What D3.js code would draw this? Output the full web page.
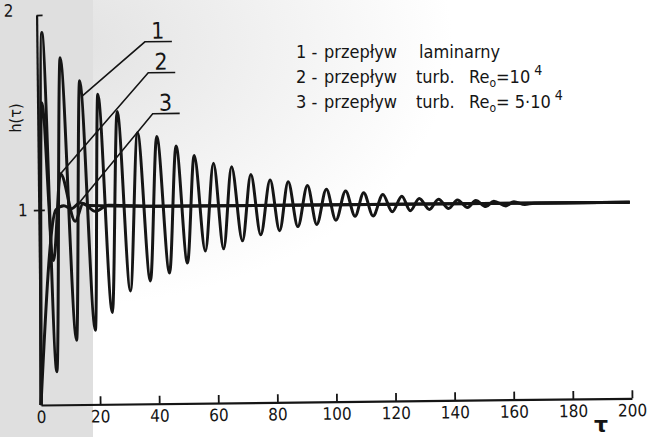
<!DOCTYPE html>
<html>
<head>
<meta charset="utf-8">
<script src="https://cdn.jsdelivr.net/npm/d3@7"></script>
<style>
body { margin: 0; background: #fff; }
svg { display: block; }
</style>
</head>
<body>
<script>
/* global d3 */

// Data (peaks and troughs of each response)
// 1 - laminar flow
const tauLam = [0, 1.7, 5.5, 7.8, 12.3, 14.3, 18.7, 20.4, 24.5, 26.9, 30.7, 33.7, 37.5, 40.2, 44.0, 46.7,
  50.1, 52.8, 56.2, 59.3, 62.4, 65.4, 68.8, 71.9, 75.0, 78.4, 81.4, 84.5, 87.6, 91.0, 94.0, 97.4,
  100.5, 103.9, 107.0, 110.0, 113.1, 116.5, 119.6, 122.9, 125.7, 128.8, 132.2, 135.3, 138.7, 141.7,
  145.1, 147.9, 151.3, 154.0, 158.1, 160.8, 164.5, 167.6, 200];
const hLam = [0, 1.91, 0.17, 1.78, 0.33, 1.66, 0.38, 1.59, 0.47, 1.50, 0.58, 1.39, 0.63, 1.37, 0.67, 1.32,
  0.72, 1.27, 0.78, 1.23, 0.79, 1.21, 0.83, 1.17, 0.86, 1.14, 0.88, 1.13, 0.90, 1.11, 0.91, 1.09,
  0.93, 1.08, 0.95, 1.07, 0.95, 1.06, 0.97, 1.05, 0.975, 1.037, 0.98, 1.032, 0.984, 1.027,
  0.988, 1.023, 0.992, 1.019, 0.994, 1.015, 1.0, 1.006, 1.005];

// 2 - turbulent, Re = 10^4
const tauTurb1 = [0, 1.4, 4.8, 7.5, 12.3, 15.0, 19.1, 23.5, 40, 200];
const hTurb1 = [0, 1.55, 0.74, 1.185, 0.94, 1.03, 0.99, 1.02, 1.012, 1.005];

// 3 - turbulent, Re = 5*10^4
const tauTurb2 = [0, 5.8, 8.5, 11.0, 14.0, 17.0, 40, 200];
const hTurb2 = [0, 1.0, 1.02, 1.005, 1.035, 1.02, 1.012, 1.005];

// axes
const xTicks = [0, 20, 40, 60, 80, 100, 120, 140, 160, 180, 200];
const yTicks = [1, 2];

// curve labels: number and the point on the curve its leader goes to
const labelNums = ['1', '2', '3'];
const labelTau = [15.0, 7.5, 14.0];
const labelH = [1.58, 1.185, 1.04];

// legend
const legendNums = ['1 -', '2 -', '3 -'];
const legendKinds = ['laminarny', 'turb.', 'turb.'];
const legendRe = ['', '=10', '= 5·10'];

const width = 647;
const height = 437;
const ink = '#151515';
const font = '"DejaVu Sans Condensed", "DejaVu Sans", sans-serif';

const svg = d3.select('body')
.append('svg')
.attr('width', width)
.attr('height', height);

// scanned paper: greyish strip on the left
const defs = svg.append('defs');
const grad = defs.append('radialGradient')
.attr('id', 'paper')
.attr('cx', 0.1).attr('cy', 0.1).attr('r', 0.6);
grad.append('stop').attr('offset', '0%').attr('stop-color', '#e2e2e2');
grad.append('stop').attr('offset', '100%').attr('stop-color', '#ffffff');

svg.append('rect')
.attr('width', width).attr('height', height)
.attr('fill', 'url(#paper)');
svg.append('rect')
.attr('x', 0).attr('y', 0)
.attr('width', 93).attr('height', height)
.attr('fill', '#dfdfdf');

// scales
const xScale = d3.scaleLinear().domain([0, 200]).range([41, 632]);
const yScale = d3.scaleLinear().domain([0, 2]).range([405, 15]);

// the scan is a little tilted
const g = svg.append('g')
.attr('transform', `rotate(-0.65, ${ xScale(0) }, ${ yScale(0) })`);

// x axis, ticks pointing up
const xAxis = d3.axisBottom(xScale)
.tickValues(xTicks)
.tickSizeInner(-8)
.tickSizeOuter(0)
.tickPadding(6);

const gx = g.append('g')
.attr('transform', `translate(0,${ yScale(0) })`)
.call(xAxis);

// y axis
const yAxis = d3.axisLeft(yScale)
.tickValues(yTicks)
.tickFormat(d3.format('d'))
.tickSizeInner(-6)
.tickSizeOuter(0)
.tickPadding(11);

const gy = g.append('g')
.attr('transform', `translate(${ xScale(0) },0)`)
.call(yAxis);

[gx, gy].forEach(ax => {
    ax.select('.domain').attr('stroke', ink).attr('stroke-width', 2.2);
    ax.selectAll('.tick line').attr('stroke', ink).attr('stroke-width', 1.8);
    ax.selectAll('.tick text')
    .attr('fill', ink)
    .attr('font-family', font)
    .attr('font-size', '17px');
});

gy.selectAll('.tick line').attr('x1', d => d === 1 ? -5 : 0);
gy.selectAll('.tick text')
.attr('x', d => d === 2 ? -23 : -11)
.attr('dy', d => d === 2 ? '0.05em' : '0.32em');

// axis titles
svg.append('text')
.attr('transform', 'translate(21,118) rotate(-90)')
.attr('text-anchor', 'middle')
.attr('font-family', font)
.attr('font-size', '16px')
.attr('fill', ink)
.text('h(τ)');

svg.append('text')
.attr('x', 601).attr('y', 432)
.attr('text-anchor', 'middle')
.attr('font-family', '"DejaVu Sans", sans-serif')
.attr('font-size', '22px')
.attr('font-weight', 'bold')
.attr('fill', ink)
.text('τ');

// curves
const series = [
    { tau: tauTurb2, h: hTurb2 },
    { tau: tauTurb1, h: hTurb1 },
    { tau: tauLam, h: hLam }
];

const line = d3.line()
.x(d => xScale(d[0]))
.y(d => yScale(d[1]))
.curve(d3.curveMonotoneX);

g.selectAll('path.curve')
.data(series)
.enter()
.append('path')
.attr('class', 'curve')
.attr('d', s => line(s.tau.map((t, i) => [t, s.h[i]])))
.attr('fill', 'none')
.attr('stroke', ink)
.attr('stroke-width', 3)
.attr('stroke-linejoin', 'round');

// curve labels with leaders
const labelX = [149, 152, 156];
const labelY = [43, 74, 115];

labelNums.forEach((num, i) => {
    g.append('text')
    .attr('x', labelX[i] + 13).attr('y', labelY[i] - 3)
    .attr('text-anchor', 'middle')
    .attr('font-family', font)
    .attr('font-size', '23px')
    .attr('fill', ink)
    .text(num);

    g.append('path')
    .attr('d', `M${ xScale(labelTau[i]) },${ yScale(labelH[i]) }L${ labelX[i] },${ labelY[i] }h27`)
    .attr('fill', 'none')
    .attr('stroke', ink)
    .attr('stroke-width', 1.6);
});

// legend
const legendY = [58, 83, 108];

legendNums.forEach((num, i) => {
    const row = svg.append('text')
    .attr('y', legendY[i])
    .attr('font-family', font)
    .attr('font-size', '18px')
    .attr('fill', ink);

    row.append('tspan').attr('x', 296).text(num);
    row.append('tspan').attr('x', 324).text('przepływ');
    row.append('tspan').attr('x', i === 0 ? 419 : 416).text(legendKinds[i]);

    if (legendRe[i]) {
        row.append('tspan').attr('x', 469).text('Re');
        row.append('tspan').attr('dy', 4).attr('font-size', '12px').text('o');
        row.append('tspan').attr('dy', -4).text(legendRe[i]);
        row.append('tspan').attr('dx', 4).attr('dy', -8).attr('font-size', '14px').text('4');
    }
});
</script>
</body>
</html>
